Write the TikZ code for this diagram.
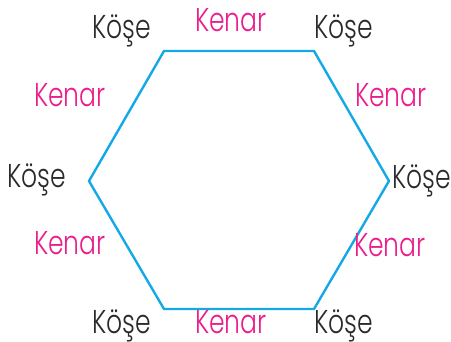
\documentclass[tikz,border=0pt]{standalone}
\usepackage{fontspec}
\usepackage{graphicx}
\IfFontExistsTF{Poppins Light}{\setmainfont{Poppins Light}}{\setmainfont{Poppins}}
\definecolor{hexblue}{HTML}{14A9E6}
\definecolor{kenarpink}{HTML}{EA1E8C}
\definecolor{koseink}{HTML}{2A2A2A}
\newcommand{\lbl}[1]{\scalebox{0.76}[1]{\fontsize{33}{33}\selectfont #1}}
\tikzset{
  corner/.style={inner sep=0pt, anchor=base, text=koseink},
  edge/.style={inner sep=0pt, anchor=base, text=kenarpink},
  hexline/.style={draw=hexblue, line width=2.4pt, line join=miter}
}
\begin{document}
\begin{tikzpicture}[x=1pt,y=-1pt]
\useasboundingbox (0,0) rectangle (451,342);
\coordinate (v1) at (164,51);
\coordinate (v2) at (314,51);
\coordinate (v3) at (389,181);
\coordinate (v4) at (314,309);
\coordinate (v5) at (164,309);
\coordinate (v6) at (89,181);
\draw[hexline] (v1) -- (v2) -- (v3) -- (v4) -- (v5) -- (v6) -- cycle;
\node[corner] (k1) at (122,39) {\lbl{Köşe}};
\node[corner] (k2) at (344,39) {\lbl{Köşe}};
\node[corner] (k3) at (422,189) {\lbl{Köşe}};
\node[corner] (k4) at (344,334) {\lbl{Köşe}};
\node[corner] (k5) at (122,334) {\lbl{Köşe}};
\node[corner] (k6) at (37,188) {\lbl{Köşe}};
\node[edge] (e1) at (231,32) {\lbl{Kenar}};
\node[edge] (e2) at (391,107) {\lbl{Kenar}};
\node[edge] (e3) at (390,257) {\lbl{Kenar}};
\node[edge] (e4) at (231,334) {\lbl{Kenar}};
\node[edge] (e5) at (70,255) {\lbl{Kenar}};
\node[edge] (e6) at (70,107) {\lbl{Kenar}};
\end{tikzpicture}
\end{document}
